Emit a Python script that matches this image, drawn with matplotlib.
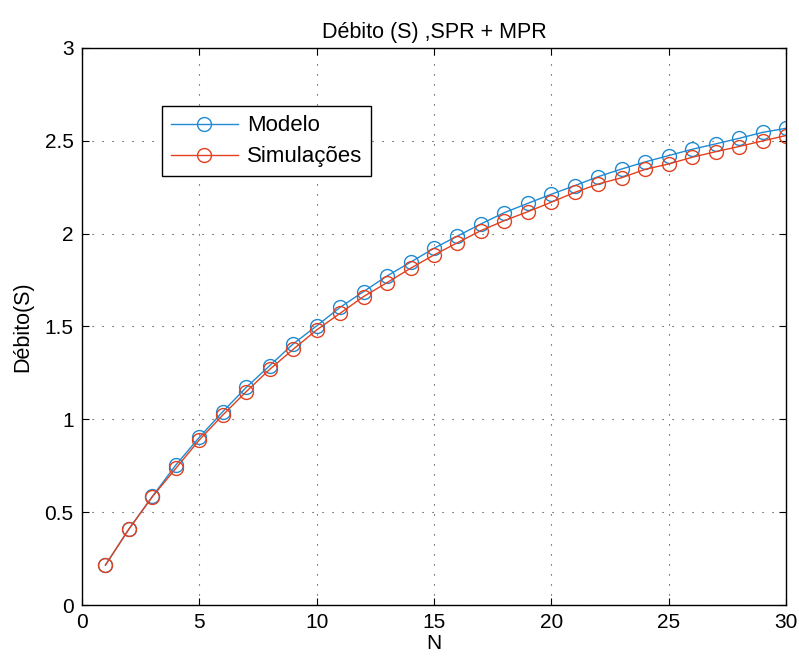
import matplotlib
matplotlib.use("Agg")
import matplotlib.pyplot as plt

# Throughput (Débito) versus number of nodes N
N = list(range(1, 31))
modelo = [0.215, 0.409, 0.585, 0.754, 0.903, 1.041, 1.172, 1.289, 1.406, 1.503,
          1.603, 1.688, 1.772, 1.846, 1.921, 1.987, 2.052, 2.113, 2.163, 2.212,
          2.258, 2.307, 2.348, 2.386, 2.420, 2.454, 2.483, 2.513, 2.545, 2.567]
simulacoes = [0.215, 0.409, 0.583, 0.736, 0.889, 1.023, 1.149, 1.269, 1.377, 1.481,
              1.571, 1.661, 1.736, 1.813, 1.885, 1.951, 2.016, 2.070, 2.118, 2.169,
              2.222, 2.267, 2.301, 2.346, 2.375, 2.411, 2.441, 2.469, 2.499, 2.528]

xticks = [0, 5, 10, 15, 20, 25, 30]
yticks = [0, 0.5, 1, 1.5, 2, 2.5, 3]
ytick_labels = ["0", "0.5", "1", "1.5", "2", "2.5", "3"]

plt.rcParams["font.family"] = ["Liberation Sans", "DejaVu Sans"]

fig = plt.figure(figsize=(7.99, 6.57), dpi=100)
ax = fig.add_axes([0.1026, 0.0791, 0.8811, 0.848])

blue = "#1f8ad2"
red = "#e2401f"

ax.plot(N, modelo, color=blue, marker="o", markersize=10, markerfacecolor="none",
        markeredgewidth=1.0, linewidth=1.0, label="Modelo")
ax.plot(N, simulacoes, color=red, marker="o", markersize=10, markerfacecolor="none",
        markeredgewidth=1.0, linewidth=1.0, label="Simulações")

ax.set_xlim(0, 30)
ax.set_ylim(0, 3)
ax.set_xticks(xticks)
ax.set_xticklabels([str(t) for t in xticks])
ax.set_yticks(yticks)
ax.set_yticklabels(ytick_labels)

ax.tick_params(direction="in", length=5, width=0.8, labelsize=15,
               top=True, right=True, pad=6)
ax.grid(True, color="0.2", linestyle=(0, (1, 8)), linewidth=0.8)
for s in ax.spines.values():
    s.set_linewidth(1.0)
    s.set_color("black")

ax.set_title("Débito (S) ,SPR + MPR", fontsize=15.5, pad=7)
ax.set_xlabel("N", fontsize=15, labelpad=1.5)
ax.set_ylabel("Débito(S)", fontsize=15.5, labelpad=8)

leg = ax.legend(loc="upper left", bbox_to_anchor=(0.114, 0.895), fontsize=16,
                frameon=True, fancybox=False, edgecolor="black", framealpha=1,
                handlelength=3.0, handletextpad=0.4, labelspacing=0.45,
                borderpad=0.4, borderaxespad=0)
leg.get_frame().set_linewidth(1.0)

fig.savefig("out.png", dpi=100)
